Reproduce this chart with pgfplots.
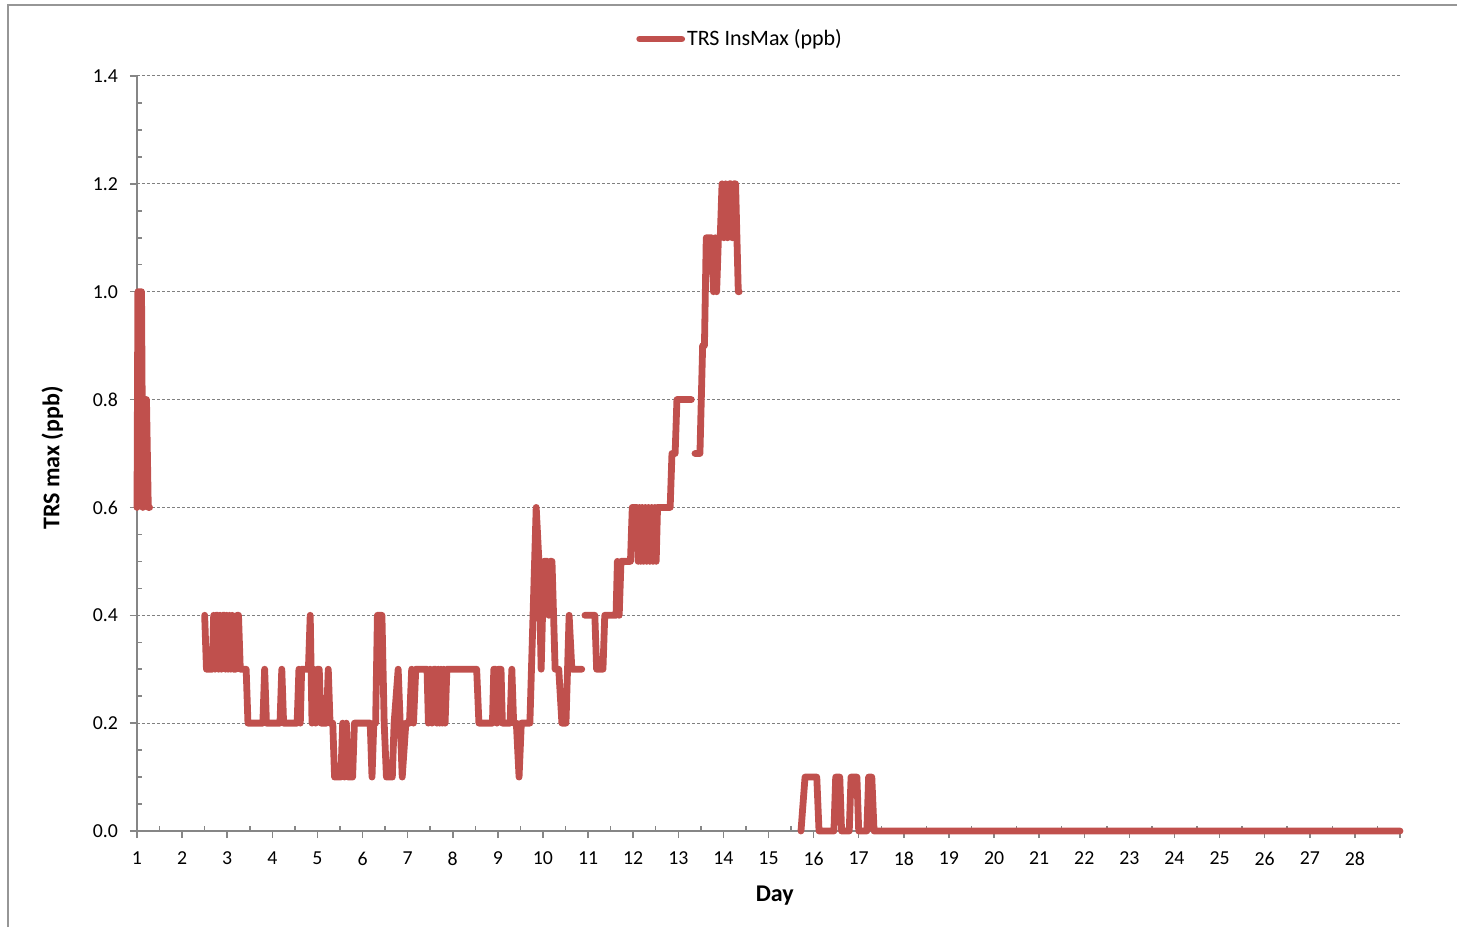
\documentclass[border=0pt]{standalone}
\usepackage{fontspec}
\setmainfont{Carlito}
\usepackage{pgfplots}
\pgfplotsset{compat=1.18}
\definecolor{trsred}{RGB}{192,80,77}
\definecolor{axgray}{RGB}{134,134,134}
\definecolor{gridgray}{RGB}{128,128,128}
\definecolor{framegray}{RGB}{150,150,150}

\begin{document}
\begin{tikzpicture}
\path[use as bounding box] (0,0) rectangle (728.5pt,463.5pt);
% chart area frame
\draw[framegray, line width=0.6pt] (4pt,0) -- (4pt,461pt) -- (728.5pt,461pt);
\begin{axis}[
  at={(68.5pt,48pt)}, anchor=south west,
  scale only axis, width=631.5pt, height=377.5pt,
  xmin=1, xmax=29, ymin=0, ymax=1.4,
  clip=false,
  axis x line=bottom, axis y line=left,
  axis line style={-, draw=axgray, line width=0.75pt},
  xtick={1,...,28},
  minor xtick={1.5,2.5,...,28.5},
  extra x ticks={29}, extra x tick labels={},
  ytick={0,0.2,0.4,0.6,0.8,1.0,1.2,1.4},
  minor y tick num=3,
  tick align=outside,
  major tick length=3.5pt, minor tick length=2.5pt,
  tick style={axgray, line width=0.75pt},
  minor x tick style={yshift=2.5pt},
  minor y tick style={xshift=2.5pt},
  ymajorgrids,
  major grid style={gridgray, line width=0.5pt, dash pattern=on 1.5pt off 1pt},
  /pgf/number format/assume math mode=true,
  ticklabel style={font=\fontsize{9.9}{11.8}\selectfont},
  xticklabel style={yshift=-3.5pt},
  yticklabel style={xshift=-2.5pt, /pgf/number format/.cd, fixed, fixed zerofill, precision=1},
  xlabel={Day}, ylabel={TRS max (ppb)},
  label style={font=\fontsize{12}{14}\selectfont\bfseries},
  xlabel style={at={(axis description cs:0.505,-0.085)}, anchor=center},
  ylabel style={at={(axis description cs:-0.067,0.494)}, anchor=center},
  unbounded coords=jump,
  legend style={at={(0.395,1.049)}, anchor=west, draw=none, fill=none,
    inner sep=0pt, font=\fontsize{11}{13}\selectfont,
    nodes={inner sep=1pt}},
  legend image code/.code={\draw[#1] (0pt,0pt) -- (21pt,0pt);},
]
\addplot[trsred, line width=3.4pt, line join=round, line cap=round] table {
x y
1.00 0.6
1.02 1.0
1.10 1.0
1.13 0.6
1.16 0.8
1.21 0.8
1.25 0.6
1.28 0.6
nan nan
2.50 0.4
2.54 0.3
2.67 0.3
2.70 0.4
2.73 0.3
2.75 0.4
2.79 0.4
2.81 0.3
2.84 0.4
2.87 0.3
2.90 0.4
2.94 0.4
2.96 0.3
2.99 0.4
3.02 0.3
3.05 0.4
3.08 0.3
3.11 0.4
3.14 0.3
3.19 0.3
3.22 0.4
3.25 0.4
3.29 0.3
3.42 0.3
3.46 0.2
3.79 0.2
3.83 0.3
3.87 0.2
4.17 0.2
4.21 0.3
4.25 0.2
4.55 0.2
4.59 0.3
4.62 0.2
4.65 0.3
4.80 0.3
4.84 0.4
4.88 0.2
4.92 0.3
4.96 0.2
5.00 0.3
5.04 0.3
5.08 0.2
5.20 0.2
5.24 0.3
5.28 0.2
5.34 0.2
5.38 0.1
5.52 0.1
5.56 0.2
5.60 0.1
5.64 0.2
5.68 0.1
5.78 0.1
5.82 0.2
6.17 0.2
6.21 0.1
6.25 0.2
6.29 0.2
6.33 0.4
6.43 0.4
6.48 0.2
6.53 0.1
6.66 0.1
6.70 0.2
6.79 0.3
6.88 0.1
6.96 0.2
7.04 0.2
7.09 0.3
7.13 0.2
7.18 0.3
7.43 0.3
7.46 0.2
7.50 0.3
7.54 0.2
7.58 0.3
7.62 0.3
7.65 0.2
7.68 0.3
7.71 0.2
7.74 0.3
7.77 0.2
7.80 0.3
7.83 0.2
7.87 0.3
8.53 0.3
8.58 0.2
8.88 0.2
8.91 0.3
8.95 0.3
8.98 0.2
9.01 0.3
9.07 0.3
9.10 0.2
9.27 0.2
9.31 0.3
9.35 0.2
9.41 0.2
9.47 0.1
9.52 0.2
9.71 0.2
9.85 0.6
9.91 0.5
9.96 0.3
10.02 0.5
10.10 0.5
10.13 0.4
10.16 0.5
10.20 0.5
10.27 0.3
10.35 0.3
10.42 0.2
10.51 0.2
10.58 0.4
10.64 0.3
10.86 0.3
nan nan
10.93 0.4
11.15 0.4
11.19 0.3
11.33 0.3
11.37 0.4
11.62 0.4
11.65 0.5
11.69 0.4
11.73 0.5
11.94 0.5
11.98 0.6
12.08 0.6
12.11 0.5
12.14 0.6
12.17 0.5
12.20 0.6
12.23 0.5
12.27 0.6
12.30 0.5
12.34 0.6
12.37 0.5
12.41 0.6
12.44 0.5
12.48 0.6
12.51 0.5
12.54 0.6
12.82 0.6
12.86 0.7
12.93 0.7
12.97 0.8
13.29 0.8
nan nan
13.37 0.7
13.48 0.7
13.54 0.9
13.58 0.9
13.62 1.1
13.74 1.1
13.78 1.0
13.82 1.1
13.85 1.0
13.89 1.1
13.93 1.1
13.97 1.2
14.01 1.1
14.05 1.2
14.09 1.1
14.13 1.2
14.17 1.2
14.20 1.1
14.23 1.2
14.27 1.2
14.33 1.0
14.35 1.0
nan nan
15.72 0.0
15.81 0.1
16.07 0.1
16.12 0.0
16.45 0.0
16.49 0.1
16.58 0.1
16.62 0.0
16.79 0.0
16.83 0.1
16.96 0.1
17.00 0.0
17.18 0.0
17.22 0.1
17.29 0.1
17.34 0.0
29.00 0.0
};
\addlegendentry{TRS InsMax (ppb)}
\end{axis}
\end{tikzpicture}
\end{document}
